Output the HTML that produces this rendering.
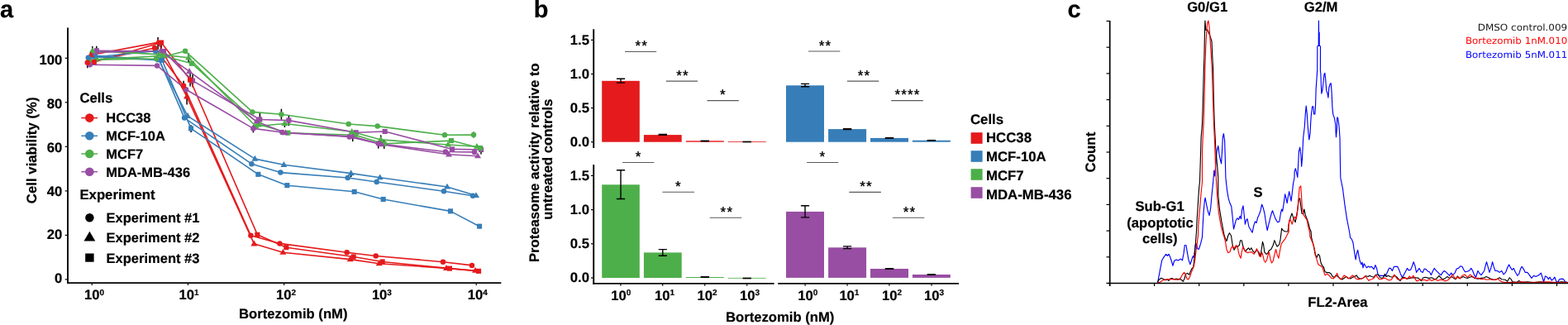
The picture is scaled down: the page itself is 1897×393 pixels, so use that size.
<!DOCTYPE html>
<html lang="en">
<head>
<meta charset="utf-8">
<title>Bortezomib figure</title>
<style>
html,body{margin:0;padding:0;background:#fff;}
body{width:1897px;height:393px;overflow:hidden;}
svg{display:block;}
text{font-family:"Liberation Sans",sans-serif;text-rendering:geometricPrecision;}
.b text,text.b{font-weight:700;stroke:#000;stroke-width:0.2px;stroke-linejoin:round;}
.r text,text.r{font-weight:400;}
.v text,text.v{font-family:"DejaVu Sans",sans-serif;font-weight:400;}
</style>
</head>
<body>
<svg width="1897" height="393" viewBox="0 0 1897 393">
<rect width="1897" height="393" fill="#fff"/>
<g id="panel-a">
<g stroke="#000" stroke-width="1.5">
<path d="M111.8 55.9V61.4"/>
<path d="M116.8 55.7V61.2"/>
<path d="M105.8 75.7V82.2"/>
<path d="M109.8 62.0V66.5"/>
<path d="M191.1 44.9V59.9"/>
<path d="M195.1 51.5V59.0"/>
<path d="M231.1 151.2V160.0"/>
<path d="M226.1 111.9V126.4"/>
<path d="M230.1 88.5V104.5"/>
<path d="M233.1 89.6V105.6"/>
<path d="M222.1 97.8V103.8"/>
<path d="M228.1 64.3V75.3"/>
<path d="M225.1 108.3V113.3"/>
<path d="M314.4 137.0V152.0"/>
<path d="M306.4 151.4V160.4"/>
<path d="M340.4 131.7V144.7"/>
<path d="M349.4 139.6V152.1"/>
<path d="M344.4 146.5V154.0"/>
<path d="M426.7 165.1V171.1"/>
<path d="M460.7 163.4V174.9"/>
<path d="M457.7 173.6V179.6"/>
<path d="M464.7 169.4V179.9"/>
<path d="M582.0 177.5V186.5"/>
<path d="M573.0 159.6V166.6"/>
<path d="M424.7 209.6V214.1"/>
</g>
<g fill="none" stroke-width="1.6" stroke-linejoin="round">
<polyline points="105.8,75.7 187.1,58.0 222.1,103.8 303.4,284.8 338.4,294.4 419.7,305.3 454.7,309.5 536.0,316.7 571.0,320.9" stroke="#E41A1C"/>
<polyline points="109.8,66.5 191.1,51.4 226.1,116.9 307.4,294.8 342.4,305.2 423.7,313.6 458.7,318.7 540.0,324.4 575.0,327.2" stroke="#E41A1C"/>
<polyline points="113.8,74.9 195.1,51.5 230.1,96.5 311.4,283.8 346.4,299.2 427.7,310.5 462.7,316.5 544.0,324.6 579.0,327.9" stroke="#E41A1C"/>
<polyline points="106.8,69.8 188.1,61.7 223.1,142.6 304.4,198.2 339.4,208.6 420.7,215.0 455.7,220.0 537.0,231.2 572.0,236.7" stroke="#377EB8"/>
<polyline points="110.8,68.7 192.1,72.7 227.1,140.4 308.4,192.1 343.4,199.3 424.7,209.6 459.7,214.7 541.0,226.0 576.0,236.5" stroke="#377EB8"/>
<polyline points="114.8,67.3 196.1,72.8 231.1,155.4 312.4,210.8 347.4,224.2 428.7,231.8 463.7,241.0 545.0,255.4 580.0,273.7" stroke="#377EB8"/>
<polyline points="107.8,72.5 189.1,71.0 224.1,61.8 305.4,135.4 340.4,138.2 421.7,150.0 456.7,152.6 538.0,163.3 573.0,163.1" stroke="#4DAF4A"/>
<polyline points="111.8,61.4 193.1,65.9 228.1,69.8 309.4,152.7 344.4,149.5 425.7,159.3 460.7,168.9 542.0,175.0 577.0,177.2" stroke="#4DAF4A"/>
<polyline points="115.8,71.9 197.1,67.5 232.1,76.7 313.4,150.5 348.4,160.7 429.7,163.3 464.7,173.9 546.0,170.1 581.0,179.1" stroke="#4DAF4A"/>
<polyline points="108.8,78.3 190.1,79.4 225.1,108.3 306.4,155.4 341.4,160.0 422.7,165.4 457.7,173.6 539.0,183.5 574.0,183.9" stroke="#984EA3"/>
<polyline points="112.8,63.2 194.1,61.7 229.1,86.3 310.4,146.9 345.4,160.7 426.7,165.1 461.7,174.7 543.0,186.8 578.0,188.7" stroke="#984EA3"/>
<polyline points="116.8,61.2 198.1,62.0 233.1,97.6 314.4,144.5 349.4,145.6 430.7,160.3 465.7,159.0 547.0,180.4 582.0,181.0" stroke="#984EA3"/>
</g>
<g>
<rect x="113.8" y="58.2" width="6.1" height="6.1" fill="#984EA3"/>
<rect x="112.8" y="68.9" width="6.1" height="6.1" fill="#4DAF4A"/>
<rect x="111.8" y="64.2" width="6.1" height="6.1" fill="#377EB8"/>
<rect x="110.8" y="71.9" width="6.1" height="6.1" fill="#E41A1C"/>
<path d="M112.8 58.9L116.8 65.8L108.8 65.8Z" fill="#984EA3"/>
<path d="M111.8 57.1L115.8 64.0L107.8 64.0Z" fill="#4DAF4A"/>
<path d="M110.8 64.4L114.8 71.3L106.8 71.3Z" fill="#377EB8"/>
<path d="M109.8 62.2L113.8 69.1L105.8 69.1Z" fill="#E41A1C"/>
<circle cx="108.8" cy="78.3" r="3.25" fill="#984EA3"/>
<circle cx="107.8" cy="72.5" r="3.25" fill="#4DAF4A"/>
<circle cx="106.8" cy="69.8" r="3.25" fill="#377EB8"/>
<circle cx="105.8" cy="75.7" r="3.25" fill="#E41A1C"/>
<rect x="195.0" y="59.0" width="6.1" height="6.1" fill="#984EA3"/>
<rect x="194.0" y="64.5" width="6.1" height="6.1" fill="#4DAF4A"/>
<rect x="193.0" y="69.8" width="6.1" height="6.1" fill="#377EB8"/>
<rect x="192.0" y="48.5" width="6.1" height="6.1" fill="#E41A1C"/>
<path d="M194.1 57.4L198.1 64.3L190.1 64.3Z" fill="#984EA3"/>
<path d="M193.1 61.6L197.1 68.5L189.1 68.5Z" fill="#4DAF4A"/>
<path d="M192.1 68.4L196.1 75.3L188.1 75.3Z" fill="#377EB8"/>
<path d="M191.1 47.1L195.1 54.0L187.1 54.0Z" fill="#E41A1C"/>
<circle cx="190.1" cy="79.4" r="3.25" fill="#984EA3"/>
<circle cx="189.1" cy="71.0" r="3.25" fill="#4DAF4A"/>
<circle cx="188.1" cy="61.7" r="3.25" fill="#377EB8"/>
<circle cx="187.1" cy="58.0" r="3.25" fill="#E41A1C"/>
<rect x="230.0" y="94.5" width="6.1" height="6.1" fill="#984EA3"/>
<rect x="229.0" y="73.7" width="6.1" height="6.1" fill="#4DAF4A"/>
<rect x="228.0" y="152.3" width="6.1" height="6.1" fill="#377EB8"/>
<rect x="227.0" y="93.5" width="6.1" height="6.1" fill="#E41A1C"/>
<path d="M229.1 82.0L233.1 88.9L225.1 88.9Z" fill="#984EA3"/>
<path d="M228.1 65.5L232.1 72.4L224.1 72.4Z" fill="#4DAF4A"/>
<path d="M227.1 136.1L231.1 143.0L223.1 143.0Z" fill="#377EB8"/>
<path d="M226.1 112.6L230.1 119.5L222.1 119.5Z" fill="#E41A1C"/>
<circle cx="225.1" cy="108.3" r="3.25" fill="#984EA3"/>
<circle cx="224.1" cy="61.8" r="3.25" fill="#4DAF4A"/>
<circle cx="223.1" cy="142.6" r="3.25" fill="#377EB8"/>
<circle cx="222.1" cy="103.8" r="3.25" fill="#E41A1C"/>
<rect x="311.3" y="141.4" width="6.1" height="6.1" fill="#984EA3"/>
<rect x="310.3" y="147.4" width="6.1" height="6.1" fill="#4DAF4A"/>
<rect x="309.3" y="207.8" width="6.1" height="6.1" fill="#377EB8"/>
<rect x="308.3" y="280.8" width="6.1" height="6.1" fill="#E41A1C"/>
<path d="M310.4 142.6L314.4 149.5L306.4 149.5Z" fill="#984EA3"/>
<path d="M309.4 148.4L313.4 155.3L305.4 155.3Z" fill="#4DAF4A"/>
<path d="M308.4 187.8L312.4 194.7L304.4 194.7Z" fill="#377EB8"/>
<path d="M307.4 290.5L311.4 297.4L303.4 297.4Z" fill="#E41A1C"/>
<circle cx="306.4" cy="155.4" r="3.25" fill="#984EA3"/>
<circle cx="305.4" cy="135.4" r="3.25" fill="#4DAF4A"/>
<circle cx="304.4" cy="198.2" r="3.25" fill="#377EB8"/>
<circle cx="303.4" cy="284.8" r="3.25" fill="#E41A1C"/>
<rect x="346.3" y="142.5" width="6.1" height="6.1" fill="#984EA3"/>
<rect x="345.3" y="157.6" width="6.1" height="6.1" fill="#4DAF4A"/>
<rect x="344.3" y="221.1" width="6.1" height="6.1" fill="#377EB8"/>
<rect x="343.3" y="296.1" width="6.1" height="6.1" fill="#E41A1C"/>
<path d="M345.4 156.4L349.4 163.3L341.4 163.3Z" fill="#984EA3"/>
<path d="M344.4 145.2L348.4 152.1L340.4 152.1Z" fill="#4DAF4A"/>
<path d="M343.4 195.0L347.4 201.9L339.4 201.9Z" fill="#377EB8"/>
<path d="M342.4 300.9L346.4 307.8L338.4 307.8Z" fill="#E41A1C"/>
<circle cx="341.4" cy="160.0" r="3.25" fill="#984EA3"/>
<circle cx="340.4" cy="138.2" r="3.25" fill="#4DAF4A"/>
<circle cx="339.4" cy="208.6" r="3.25" fill="#377EB8"/>
<circle cx="338.4" cy="294.4" r="3.25" fill="#E41A1C"/>
<rect x="427.6" y="157.2" width="6.1" height="6.1" fill="#984EA3"/>
<rect x="426.6" y="160.2" width="6.1" height="6.1" fill="#4DAF4A"/>
<rect x="425.6" y="228.8" width="6.1" height="6.1" fill="#377EB8"/>
<rect x="424.6" y="307.4" width="6.1" height="6.1" fill="#E41A1C"/>
<path d="M426.7 160.8L430.7 167.7L422.7 167.7Z" fill="#984EA3"/>
<path d="M425.7 155.0L429.7 161.9L421.7 161.9Z" fill="#4DAF4A"/>
<path d="M424.7 205.3L428.7 212.2L420.7 212.2Z" fill="#377EB8"/>
<path d="M423.7 309.3L427.7 316.2L419.7 316.2Z" fill="#E41A1C"/>
<circle cx="422.7" cy="165.4" r="3.25" fill="#984EA3"/>
<circle cx="421.7" cy="150.0" r="3.25" fill="#4DAF4A"/>
<circle cx="420.7" cy="215.0" r="3.25" fill="#377EB8"/>
<circle cx="419.7" cy="305.3" r="3.25" fill="#E41A1C"/>
<rect x="462.6" y="155.9" width="6.1" height="6.1" fill="#984EA3"/>
<rect x="461.6" y="170.8" width="6.1" height="6.1" fill="#4DAF4A"/>
<rect x="460.6" y="237.9" width="6.1" height="6.1" fill="#377EB8"/>
<rect x="459.6" y="313.4" width="6.1" height="6.1" fill="#E41A1C"/>
<path d="M461.7 170.4L465.7 177.3L457.7 177.3Z" fill="#984EA3"/>
<path d="M460.7 164.6L464.7 171.5L456.7 171.5Z" fill="#4DAF4A"/>
<path d="M459.7 210.4L463.7 217.3L455.7 217.3Z" fill="#377EB8"/>
<path d="M458.7 314.4L462.7 321.3L454.7 321.3Z" fill="#E41A1C"/>
<circle cx="457.7" cy="173.6" r="3.25" fill="#984EA3"/>
<circle cx="456.7" cy="152.6" r="3.25" fill="#4DAF4A"/>
<circle cx="455.7" cy="220.0" r="3.25" fill="#377EB8"/>
<circle cx="454.7" cy="309.5" r="3.25" fill="#E41A1C"/>
<rect x="543.9" y="177.3" width="6.1" height="6.1" fill="#984EA3"/>
<rect x="542.9" y="167.0" width="6.1" height="6.1" fill="#4DAF4A"/>
<rect x="541.9" y="252.3" width="6.1" height="6.1" fill="#377EB8"/>
<rect x="540.9" y="321.6" width="6.1" height="6.1" fill="#E41A1C"/>
<path d="M543.0 182.5L547.0 189.4L539.0 189.4Z" fill="#984EA3"/>
<path d="M542.0 170.7L546.0 177.6L538.0 177.6Z" fill="#4DAF4A"/>
<path d="M541.0 221.7L545.0 228.6L537.0 228.6Z" fill="#377EB8"/>
<path d="M540.0 320.1L544.0 327.0L536.0 327.0Z" fill="#E41A1C"/>
<circle cx="539.0" cy="183.5" r="3.25" fill="#984EA3"/>
<circle cx="538.0" cy="163.3" r="3.25" fill="#4DAF4A"/>
<circle cx="537.0" cy="231.2" r="3.25" fill="#377EB8"/>
<circle cx="536.0" cy="316.7" r="3.25" fill="#E41A1C"/>
<rect x="579.0" y="177.9" width="6.1" height="6.1" fill="#984EA3"/>
<rect x="578.0" y="176.0" width="6.1" height="6.1" fill="#4DAF4A"/>
<rect x="577.0" y="270.6" width="6.1" height="6.1" fill="#377EB8"/>
<rect x="576.0" y="324.8" width="6.1" height="6.1" fill="#E41A1C"/>
<path d="M578.0 184.4L582.0 191.3L574.0 191.3Z" fill="#984EA3"/>
<path d="M577.0 172.9L581.0 179.8L573.0 179.8Z" fill="#4DAF4A"/>
<path d="M576.0 232.2L580.0 239.1L572.0 239.1Z" fill="#377EB8"/>
<path d="M575.0 322.9L579.0 329.8L571.0 329.8Z" fill="#E41A1C"/>
<circle cx="574.0" cy="183.9" r="3.25" fill="#984EA3"/>
<circle cx="573.0" cy="163.1" r="3.25" fill="#4DAF4A"/>
<circle cx="572.0" cy="236.7" r="3.25" fill="#377EB8"/>
<circle cx="571.0" cy="320.9" r="3.25" fill="#E41A1C"/>
</g>
<g stroke="#000" fill="none">
<path d="M82 33.5V342.9" stroke-width="1.9"/>
<path d="M81.1 342.1H606.3" stroke-width="1.6"/>
</g>
<g stroke="#000" stroke-width="1.2" fill="none">
<path d="M78.7 337.9H82"/>
<path d="M78.7 284.4H82"/>
<path d="M78.7 230.9H82"/>
<path d="M78.7 177.3H82"/>
<path d="M78.7 123.8H82"/>
<path d="M78.7 70.3H82"/>
<path d="M111.2 342.5V345"/>
<path d="M227.4 342.5V345"/>
<path d="M343.7 342.5V345"/>
<path d="M459.9 342.5V345"/>
<path d="M576.2 342.5V345"/>
</g>
<g class="b" font-size="16.67" text-anchor="end">
<text x="75.2" y="342.1">0</text>
<text x="75.2" y="289.3">20</text>
<text x="75.2" y="236.5">40</text>
<text x="75.2" y="183.6">60</text>
<text x="75.2" y="130.8">80</text>
<text x="75.2" y="78.0">100</text>
</g>
<g class="b" font-size="16.6">
<text x="102.0" y="362.4">10<tspan font-size="10" dy="-5.4">0</tspan></text>
<text x="216.5" y="362.4">10<tspan font-size="10" dy="-5.4">1</tspan></text>
<text x="334.0" y="362.4">10<tspan font-size="10" dy="-5.4">2</tspan></text>
<text x="449.9" y="362.4">10<tspan font-size="10" dy="-5.4">3</tspan></text>
<text x="565.8" y="362.4">10<tspan font-size="10" dy="-5.4">4</tspan></text>
</g>
<text class="b" font-size="16.67" x="354.8" y="385.3" text-anchor="middle">Bortezomib (nM)</text>
<text class="b" font-size="16.8" transform="translate(43.5 181.8) rotate(-90)" text-anchor="middle">Cell viability (%)</text>
<text class="b" font-size="16.7" x="96.4" y="124.3">Cells</text>
<path d="M98.3 142.6H118" stroke="#E41A1C" stroke-width="1.5"/>
<circle cx="108.3" cy="142.6" r="5.3" fill="#E41A1C"/>
<text class="b" font-size="16.5" x="128.3" y="148.4">HCC38</text>
<path d="M98.3 164.3H118" stroke="#377EB8" stroke-width="1.5"/>
<circle cx="108.3" cy="164.3" r="5.3" fill="#377EB8"/>
<text class="b" font-size="16.5" x="128.3" y="170.1">MCF-10A</text>
<path d="M98.3 186.0H118" stroke="#4DAF4A" stroke-width="1.5"/>
<circle cx="108.3" cy="186.0" r="5.3" fill="#4DAF4A"/>
<text class="b" font-size="16.5" x="128.3" y="191.8">MCF7</text>
<path d="M98.3 207.7H118" stroke="#984EA3" stroke-width="1.5"/>
<circle cx="108.3" cy="207.7" r="5.3" fill="#984EA3"/>
<text class="b" font-size="16.5" x="128.3" y="213.5">MDA-MB-436</text>
<text class="b" font-size="16.75" x="96.4" y="241">Experiment</text>
<circle cx="108.4" cy="263.2" r="5.2" fill="#000"/>
<text class="b" font-size="16.5" x="128.6" y="269.1">Experiment #1</text>
<path d="M108.4 279.8L115.30000000000001 291.6L101.5 291.6Z" fill="#000"/>
<text class="b" font-size="16.5" x="128.6" y="293.3">Experiment #2</text>
<rect x="103.2" y="306.5" width="10.4" height="10.2" fill="#000"/>
<text class="b" font-size="16.5" x="128.6" y="317.5">Experiment #3</text>
<text class="b" font-size="29" x="0" y="21.4">a</text>
</g>
<g id="panel-b">
<rect x="728.2" y="97.8" width="45.6" height="73.9" fill="#E41A1C"/>
<rect x="778.9" y="163.1" width="45.8" height="8.6" fill="#E41A1C"/>
<rect x="829.8" y="170.3" width="46.0" height="1.4" fill="#E41A1C"/>
<rect x="880.7" y="171.1" width="46.0" height="0.8" fill="#E41A1C"/>
<path d="M745.9 95.3H756.1M745.9 100.1H756.1M751.0 95.3V100.1" stroke="#000" stroke-width="1.4" fill="none"/>
<rect x="796.6" y="161.75" width="10.4" height="2.20" fill="#000"/>
<rect x="847.6" y="169.55" width="10.4" height="1.90" fill="#000"/>
<rect x="898.5" y="170.65" width="10.4" height="1.70" fill="#000"/>
<rect x="951.0" y="103.3" width="46.0" height="68.4" fill="#377EB8"/>
<rect x="1002.1" y="156.1" width="46.0" height="15.6" fill="#377EB8"/>
<rect x="1053.0" y="166.9" width="46.0" height="4.8" fill="#377EB8"/>
<rect x="1103.9" y="169.7" width="45.9" height="2.0" fill="#377EB8"/>
<path d="M968.9 101.4H979.1M968.9 104.8H979.1M974.0 101.4V104.8" stroke="#000" stroke-width="1.4" fill="none"/>
<rect x="1019.9" y="155.05" width="10.4" height="2.20" fill="#000"/>
<rect x="1070.8" y="165.95" width="10.4" height="1.90" fill="#000"/>
<rect x="1121.6" y="168.95" width="10.4" height="1.70" fill="#000"/>
<rect x="728.2" y="223.3" width="45.6" height="112.7" fill="#4DAF4A"/>
<rect x="778.9" y="305.4" width="45.8" height="30.6" fill="#4DAF4A"/>
<rect x="829.8" y="335.0" width="46.0" height="1.0" fill="#4DAF4A"/>
<rect x="880.7" y="335.9" width="46.0" height="0.8" fill="#4DAF4A"/>
<path d="M745.9 205.8H756.1M745.9 240.5H756.1M751.0 205.8V240.5" stroke="#000" stroke-width="1.4" fill="none"/>
<path d="M796.7 301.6H806.9M796.7 309.3H806.9M801.8 301.6V309.3" stroke="#000" stroke-width="1.4" fill="none"/>
<rect x="847.6" y="334.05" width="10.4" height="1.90" fill="#000"/>
<rect x="898.5" y="335.65" width="10.4" height="1.70" fill="#000"/>
<rect x="951.0" y="255.9" width="46.0" height="80.0" fill="#984EA3"/>
<rect x="1002.1" y="299.3" width="46.0" height="36.6" fill="#984EA3"/>
<rect x="1053.0" y="325.0" width="46.0" height="10.9" fill="#984EA3"/>
<rect x="1103.9" y="332.0" width="45.9" height="3.9" fill="#984EA3"/>
<path d="M968.9 248.8H979.1M968.9 262.9H979.1M974.0 248.8V262.9" stroke="#000" stroke-width="1.4" fill="none"/>
<path d="M1020.0 297.9H1030.2M1020.0 300.6H1030.2M1025.1 297.9V300.6" stroke="#000" stroke-width="1.4" fill="none"/>
<rect x="1070.8" y="324.05" width="10.4" height="1.90" fill="#000"/>
<rect x="1121.6" y="331.15" width="10.4" height="1.70" fill="#000"/>
<path d="M756.0 62.5H794.2" stroke="#595959" stroke-width="1.1"/>
<text class="r" font-size="17" letter-spacing="1.17" stroke="#000" stroke-width="0.35" x="776.2" y="61.0" text-anchor="middle">**</text>
<path d="M805.8 98.1H844.0" stroke="#595959" stroke-width="1.1"/>
<text class="r" font-size="17" letter-spacing="1.17" stroke="#000" stroke-width="0.35" x="826.0" y="96.6" text-anchor="middle">**</text>
<path d="M855.5 121.6H893.8" stroke="#595959" stroke-width="1.1"/>
<text class="r" font-size="17" letter-spacing="1.17" stroke="#000" stroke-width="0.35" x="875.0" y="120.1" text-anchor="middle">*</text>
<path d="M978.0 62.0H1016.3" stroke="#595959" stroke-width="1.1"/>
<text class="r" font-size="17" letter-spacing="1.17" stroke="#000" stroke-width="0.35" x="998.5" y="60.5" text-anchor="middle">**</text>
<path d="M1024.9 98.1H1063.3" stroke="#595959" stroke-width="1.1"/>
<text class="r" font-size="17" letter-spacing="1.17" stroke="#000" stroke-width="0.35" x="1045.6" y="96.6" text-anchor="middle">**</text>
<path d="M1078.2 121.6H1116.8" stroke="#595959" stroke-width="1.1"/>
<text class="r" font-size="17" letter-spacing="1.17" stroke="#000" stroke-width="0.35" x="1098.0" y="120.1" text-anchor="middle">****</text>
<path d="M753.0 196.5H791.3" stroke="#595959" stroke-width="1.1"/>
<text class="r" font-size="17" letter-spacing="1.17" stroke="#000" stroke-width="0.35" x="772.6" y="195.0" text-anchor="middle">*</text>
<path d="M801.4 232.3H840.0" stroke="#595959" stroke-width="1.1"/>
<text class="r" font-size="17" letter-spacing="1.17" stroke="#000" stroke-width="0.35" x="821.0" y="230.8" text-anchor="middle">*</text>
<path d="M858.7 263.3H897.2" stroke="#595959" stroke-width="1.1"/>
<text class="r" font-size="17" letter-spacing="1.17" stroke="#000" stroke-width="0.35" x="879.4" y="261.8" text-anchor="middle">**</text>
<path d="M976.1 196.5H1014.2" stroke="#595959" stroke-width="1.1"/>
<text class="r" font-size="17" letter-spacing="1.17" stroke="#000" stroke-width="0.35" x="995.5" y="195.0" text-anchor="middle">*</text>
<path d="M1027.3 232.4H1065.9" stroke="#595959" stroke-width="1.1"/>
<text class="r" font-size="17" letter-spacing="1.17" stroke="#000" stroke-width="0.35" x="1048.0" y="230.9" text-anchor="middle">**</text>
<path d="M1079.9 263.3H1118.3" stroke="#595959" stroke-width="1.1"/>
<text class="r" font-size="17" letter-spacing="1.17" stroke="#000" stroke-width="0.35" x="1100.5" y="261.8" text-anchor="middle">**</text>
<g stroke="#000" fill="none">
<path d="M718.2 35.3V179" stroke-width="1.9"/>
<path d="M718.2 199.1V343.7" stroke-width="1.9"/>
<path d="M717.25 342.9H936.6" stroke-width="1.6"/>
<path d="M941.2 342.9H1160" stroke-width="1.6"/>
</g>
<g stroke="#000" stroke-width="1.2" fill="none">
<path d="M715 171.7H718.2"/>
<path d="M715 336.0H718.2"/>
<path d="M715 130.6H718.2"/>
<path d="M715 294.8H718.2"/>
<path d="M715 89.5H718.2"/>
<path d="M715 253.6H718.2"/>
<path d="M715 48.4H718.2"/>
<path d="M715 212.4H718.2"/>
<path d="M750.9 343.2V345.8"/>
<path d="M801.7 343.2V345.8"/>
<path d="M852.7 343.2V345.8"/>
<path d="M903.7 343.2V345.8"/>
<path d="M974.1 343.2V345.8"/>
<path d="M1025.1 343.2V345.8"/>
<path d="M1075.9 343.2V345.8"/>
<path d="M1127.0 343.2V345.8"/>
</g>
<g class="b" font-size="16.67" text-anchor="end">
<text x="713.0" y="176.8">0.0</text>
<text x="713.0" y="341.2">0.0</text>
<text x="713.0" y="135.9">0.5</text>
<text x="713.0" y="300.2">0.5</text>
<text x="713.0" y="94.9">1.0</text>
<text x="713.0" y="259.2">1.0</text>
<text x="713.0" y="53.9">1.5</text>
<text x="713.0" y="218.2">1.5</text>
</g>
<g class="b" font-size="16.6">
<text x="739.2" y="362.5">10<tspan font-size="10" dy="-5.4">0</tspan></text>
<text x="792.0" y="362.5">10<tspan font-size="10" dy="-5.4">1</tspan></text>
<text x="843.6" y="362.5">10<tspan font-size="10" dy="-5.4">2</tspan></text>
<text x="895.0" y="362.5">10<tspan font-size="10" dy="-5.4">3</tspan></text>
<text x="965.3" y="362.5">10<tspan font-size="10" dy="-5.4">0</tspan></text>
<text x="1015.4" y="362.5">10<tspan font-size="10" dy="-5.4">1</tspan></text>
<text x="1067.0" y="362.5">10<tspan font-size="10" dy="-5.4">2</tspan></text>
<text x="1118.1" y="362.5">10<tspan font-size="10" dy="-5.4">3</tspan></text>
</g>
<text class="b" font-size="16.67" x="943.7" y="389.1" text-anchor="middle">Bortezomib (nM)</text>
<text class="b" font-size="16.67" transform="translate(651.9 196.7) rotate(-90)" text-anchor="middle">Proteasome activity relative to</text>
<text class="b" font-size="16.67" transform="translate(667.7 192.6) rotate(-90)" text-anchor="middle">untreated controls</text>
<text class="b" font-size="16.8" x="1174.0" y="149.9">Cells</text>
<rect x="1174.6" y="160.2" width="14" height="13.6" fill="#E41A1C"/>
<text class="b" font-size="16.8" x="1193.0" y="172.1">HCC38</text>
<rect x="1174.6" y="182.2" width="14" height="13.6" fill="#377EB8"/>
<text class="b" font-size="16.8" x="1193.0" y="195.1">MCF-10A</text>
<rect x="1174.6" y="204.2" width="14" height="13.6" fill="#4DAF4A"/>
<text class="b" font-size="16.8" x="1193.0" y="218.1">MCF7</text>
<rect x="1174.6" y="226.2" width="14" height="13.6" fill="#984EA3"/>
<text class="b" font-size="16.8" x="1193.0" y="241.1">MDA-MB-436</text>
<text class="b" font-size="29" x="645.7" y="21.0">b</text>
</g>
<g id="panel-c">
<polyline points="1400.7,341.2 1403.2,327.9 1405.7,314.7 1408.2,310.6 1410.7,307.3 1412.3,309.4 1414.0,307.3 1415.6,310.6 1417.3,315.5 1418.9,321.3 1420.6,315.5 1423.1,313.9 1425.5,315.0 1428.0,313.1 1430.5,314.7 1432.1,306.4 1433.3,296.5 1435.0,296.5 1436.3,304.8 1437.9,313.9 1439.9,319.7 1441.6,314.7 1443.2,309.8 1444.5,311.4 1446.2,296.5 1447.5,294.9 1448.7,300.7 1450.3,301.5 1452.5,294.9 1454.5,286.6 1455.1,274.5 1456.1,256.4 1457.3,243.1 1458.1,239.0 1459.8,248.1 1461.4,255.5 1463.1,260.5 1464.7,251.4 1466.0,236.5 1467.7,220.0 1468.8,206.2 1469.7,212.8 1471.0,196.3 1472.1,183.1 1473.8,176.4 1475.0,186.4 1476.3,193.0 1477.6,197.9 1478.4,184.7 1479.3,166.5 1480.4,161.6 1481.6,169.8 1482.2,188.0 1482.9,215.0 1484.5,229.9 1486.2,239.8 1487.9,245.6 1489.8,249.8 1491.2,263.0 1492.5,277.0 1493.6,272.9 1495.3,266.3 1496.9,263.8 1498.6,265.5 1500.2,261.3 1501.4,264.6 1502.7,253.1 1504.0,248.9 1505.2,259.7 1506.4,271.2 1507.7,266.3 1509.0,264.6 1511.0,274.5 1512.6,277.0 1515.1,281.2 1516.8,272.9 1518.4,267.9 1520.0,269.5 1521.7,262.9 1523.3,259.6 1525.0,254.7 1526.6,247.2 1528.3,251.4 1529.9,258.0 1531.6,269.5 1533.2,278.6 1534.9,271.2 1536.5,264.6 1538.2,258.0 1539.5,254.7 1541.2,259.6 1543.1,264.6 1545.6,268.7 1547.8,267.9 1549.4,258.0 1550.6,253.0 1551.7,255.5 1553.1,246.4 1554.7,234.8 1556.0,239.8 1557.2,245.6 1558.3,238.1 1559.7,231.5 1561.0,238.1 1562.1,243.1 1563.3,233.2 1564.6,221.6 1566.0,215.0 1566.1,207.9 1567.3,203.7 1568.4,207.9 1569.8,214.5 1570.6,199.6 1571.4,183.1 1572.7,178.1 1573.9,188.0 1574.7,201.2 1575.5,191.3 1576.7,166.5 1578.3,153.3 1579.3,137.9 1580.2,128.0 1581.3,137.9 1582.0,150.0 1583.0,161.6 1583.8,169.0 1585.0,161.6 1585.6,150.0 1586.3,139.5 1587.6,128.8 1588.8,128.8 1589.6,137.9 1590.9,137.9 1591.6,126.3 1592.1,108.1 1592.9,96.6 1593.7,85.0 1593.8,56.0 1595.2,55.0 1595.4,25.0 1595.7,55.0 1597.5,56.0 1597.4,85.0 1597.9,90.0 1598.3,101.5 1598.8,113.1 1599.8,109.8 1600.8,101.5 1602.0,90.0 1602.8,88.3 1603.6,94.9 1604.8,109.8 1606.1,113.1 1606.9,118.1 1607.8,106.5 1609.1,101.5 1610.2,100.7 1611.1,111.4 1611.9,129.6 1612.7,137.9 1614.4,142.9 1615.7,150.0 1616.0,158.3 1616.5,165.7 1617.4,155.0 1617.7,142.0 1618.5,142.0 1619.7,150.0 1620.2,155.0 1621.0,166.5 1621.3,186.4 1621.8,215.0 1624.5,228.2 1627.0,248.1 1629.5,264.6 1632.5,280.0 1633.6,287.4 1635.3,289.1 1636.9,293.2 1638.1,301.5 1639.4,309.8 1640.2,313.9 1641.4,306.4 1642.7,302.3 1644.0,309.8 1645.2,315.5 1646.9,319.7 1648.0,317.2 1649.0,323.8 1650.2,318.8 1651.8,321.3 1653.5,323.8 1655.1,322.1 1657.0,323.1 1659.5,322.4 1662.1,325.6 1664.0,320.5 1665.7,325.0 1667.2,332.6 1669.7,333.3 1673.5,333.3 1676.1,333.9 1678.0,330.1 1680.5,324.4 1682.4,324.4 1684.4,327.5 1686.5,322.4 1690.7,322.2 1692.6,326.3 1694.5,331.4 1696.4,335.2 1698.3,332.6 1700.3,328.8 1702.5,324.4 1704.3,326.9 1706.6,326.3 1708.5,321.8 1710.2,316.7 1712.0,321.8 1713.6,329.4 1715.3,326.9 1717.1,324.4 1719.1,328.2 1721.2,329.4 1723.2,325.0 1725.1,325.6 1727.6,328.2 1729.5,328.8 1731.4,332.6 1733.3,328.2 1735.2,324.4 1737.2,326.9 1739.7,329.4 1741.6,331.4 1743.5,332.6 1745.4,329.4 1747.3,327.5 1749.2,328.8 1751.8,331.4 1753.7,333.3 1755.6,330.1 1757.5,332.6 1760.1,330.1 1762.3,325.0 1764.5,324.4 1766.7,321.8 1769.0,322.4 1770.9,326.3 1772.8,328.8 1775.3,328.2 1777.9,326.9 1779.8,324.4 1781.7,327.5 1783.6,332.6 1785.5,335.2 1788.0,327.5 1790.0,330.7 1791.9,332.6 1793.8,330.1 1795.7,327.5 1796.9,322.4 1798.5,316.7 1800.1,322.4 1802.0,329.4 1803.9,323.7 1805.6,316.7 1807.1,322.4 1809.0,327.5 1811.6,327.5 1814.1,329.4 1816.7,327.5 1819.2,332.0 1821.8,328.8 1823.7,323.7 1825.6,319.9 1827.5,323.7 1829.4,326.3 1831.3,324.4 1833.2,328.8 1835.8,333.3 1837.7,331.4 1839.6,325.0 1841.2,322.4 1843.4,325.6 1845.3,329.4 1847.8,329.4 1850.4,332.6 1852.9,336.4 1855.5,333.3 1858.0,334.5 1860.6,333.3 1862.5,332.0 1864.4,330.1 1866.3,336.4 1867.6,340.9 1869.5,333.9 1872.0,335.2 1873.3,337.7 1875.2,335.2 1877.1,339.0 1879.0,337.7 1880.9,335.2 1882.8,340.3 1884.7,341.5 1886.6,337.7 1889.8,337.1 1891.7,337.7 1893.6,340.9 1896.9,341.5" fill="none" stroke="#0000FF" stroke-width="1.15" stroke-linejoin="round"/>
<polyline points="1400.2,341.5 1402.4,337.9 1404.9,336.2 1407.4,337.5 1409.8,338.7 1412.3,337.9 1414.0,339.5 1415.6,337.0 1418.1,336.5 1420.6,337.9 1423.1,337.0 1425.5,337.9 1427.2,337.0 1429.7,338.7 1431.3,340.3 1433.0,337.0 1434.6,331.2 1436.3,330.4 1438.8,332.1 1440.4,327.9 1442.1,324.6 1443.7,323.0 1444.9,313.1 1445.9,299.8 1447.0,286.6 1447.5,280.0 1447.9,269.6 1449.0,253.1 1449.8,239.8 1450.7,226.6 1451.5,220.0 1452.3,194.6 1453.1,166.5 1454.5,150.0 1455.5,118.1 1456.3,85.0 1456.9,69.6 1457.4,41.5 1457.9,25.0 1458.9,36.5 1460.6,35.7 1463.1,41.5 1466.0,49.8 1466.7,66.3 1467.7,85.0 1468.3,118.1 1469.3,150.0 1471.0,183.1 1472.6,199.6 1473.8,215.0 1473.8,236.5 1475.5,253.1 1477.9,267.9 1481.2,285.0 1482.4,288.3 1484.0,291.6 1485.7,285.0 1487.4,281.7 1489.5,285.0 1491.2,296.5 1493.1,302.3 1494.8,299.0 1497.3,298.2 1499.4,296.5 1500.6,290.7 1502.2,290.7 1503.9,298.2 1506.4,304.0 1508.8,301.5 1510.5,299.8 1512.1,302.3 1513.8,299.8 1515.5,303.1 1517.9,305.6 1520.4,302.3 1522.9,304.8 1524.9,309.8 1526.2,301.5 1527.5,292.4 1528.7,296.5 1529.8,304.8 1532.0,307.3 1533.6,306.4 1535.3,303.1 1537.8,301.5 1540.2,296.5 1541.9,290.7 1543.6,294.9 1545.2,298.2 1547.7,295.7 1549.0,289.9 1550.2,280.0 1550.6,276.2 1552.2,278.6 1554.7,280.0 1558.0,280.0 1559.7,267.9 1561.3,262.9 1563.0,258.0 1564.6,262.9 1567.1,268.7 1568.8,259.6 1569.9,253.0 1571.2,241.4 1572.6,239.8 1573.7,248.1 1574.9,258.0 1576.5,258.8 1577.9,253.0 1579.2,259.6 1581.2,264.6 1582.8,269.5 1584.5,276.2 1586.1,280.0 1586.5,286.6 1588.2,293.2 1589.8,299.8 1591.2,308.1 1593.1,311.4 1594.8,307.3 1596.4,308.9 1598.1,318.0 1599.8,321.3 1601.4,323.0 1603.1,328.8 1605.5,329.6 1608.0,329.6 1610.5,331.2 1612.1,334.5 1614.6,335.4 1616.3,332.9 1618.8,334.5 1621.2,337.0 1623.7,337.9 1626.2,336.2 1628.7,334.5 1631.2,336.2 1633.6,337.0 1636.1,335.4 1638.6,334.5 1641.1,332.9 1642.7,335.4 1645.2,337.0 1647.7,337.0 1650.2,335.4 1652.6,333.7 1655.1,334.5 1657.0,333.3 1659.5,334.5 1662.1,335.2 1664.6,332.0 1667.2,332.0 1669.7,335.8 1672.9,336.4 1675.4,331.4 1677.4,334.5 1679.3,333.3 1681.8,334.5 1684.4,335.2 1687.5,333.3 1690.1,335.2 1692.0,337.7 1693.9,339.6 1696.4,335.8 1699.0,335.2 1701.5,337.1 1705.3,336.4 1709.2,335.8 1713.0,335.8 1716.2,336.4 1719.3,339.6 1721.9,335.8 1724.4,335.2 1728.2,336.4 1732.1,335.8 1735.9,337.7 1738.4,336.4 1741.0,333.3 1743.5,336.4 1746.1,337.7 1748.6,336.4 1751.1,334.5 1753.7,336.4 1756.2,334.5 1758.8,336.4 1761.3,337.7 1763.2,333.9 1765.1,336.4 1767.7,335.8 1770.2,334.5 1772.8,335.8 1775.3,336.4 1777.9,335.2 1781.0,334.5 1784.2,336.4 1788.0,337.1 1791.9,336.4 1795.7,335.8 1798.2,334.5 1800.8,335.8 1803.3,337.1 1807.1,338.3 1810.9,337.7 1814.1,335.8 1816.7,337.7 1821.1,338.3 1823.7,340.3 1826.2,335.8 1828.1,337.7 1830.0,340.9 1835.1,341.3 1837.7,339.6 1840.2,341.3 1847.8,340.9 1855.5,341.5 1863.1,340.9 1873.3,341.5 1883.5,341.3 1889.8,340.9 1896.9,341.5" fill="none" stroke="#000000" stroke-width="1.15" stroke-linejoin="round"/>
<polyline points="1400.2,342.0 1403.2,341.2 1405.7,339.8 1408.2,338.2 1411.5,337.9 1414.8,337.9 1418.1,337.5 1421.4,337.9 1424.7,338.2 1427.2,337.9 1428.8,335.4 1430.5,332.1 1432.6,329.3 1434.3,332.1 1436.0,337.0 1437.6,337.9 1439.6,334.5 1441.2,329.6 1442.9,325.5 1444.5,321.3 1445.9,313.1 1447.0,303.1 1448.2,294.9 1449.5,285.0 1449.8,272.9 1451.5,253.1 1453.1,233.2 1454.5,220.0 1454.5,183.1 1455.6,158.3 1456.1,150.0 1457.1,118.1 1457.8,85.0 1458.3,69.6 1458.9,53.1 1459.9,36.5 1460.7,28.3 1461.9,25.0 1463.1,33.2 1464.4,53.1 1465.5,69.6 1466.4,85.0 1467.4,118.1 1468.5,150.0 1469.7,174.8 1470.5,199.6 1471.3,215.0 1472.6,236.5 1474.3,256.4 1477.1,272.9 1480.4,285.0 1480.7,285.0 1482.4,291.6 1484.0,301.5 1485.7,305.6 1487.9,304.8 1489.5,299.8 1491.2,297.4 1492.3,300.7 1494.0,299.0 1495.6,296.5 1497.3,299.0 1498.4,304.8 1499.8,309.8 1501.1,312.2 1502.2,304.8 1503.9,298.2 1505.5,302.3 1507.7,304.8 1509.7,305.6 1512.1,304.8 1514.6,304.8 1517.1,307.3 1518.8,304.8 1520.4,300.7 1522.1,304.8 1523.7,309.8 1525.4,310.6 1526.5,304.8 1527.9,308.9 1529.2,314.7 1530.8,317.2 1532.5,314.7 1534.1,308.1 1535.3,304.8 1536.9,313.1 1538.6,318.0 1540.2,315.5 1541.9,308.1 1543.6,301.5 1545.2,308.1 1546.9,312.2 1548.5,303.1 1550.2,294.9 1552.6,291.6 1555.1,288.3 1557.6,283.3 1559.3,280.0 1558.8,272.9 1560.5,264.6 1562.1,267.9 1563.3,271.2 1565.0,264.6 1566.6,262.1 1568.3,264.6 1569.6,256.3 1570.9,241.4 1572.1,226.6 1573.7,224.9 1574.5,236.5 1575.4,251.4 1577.0,259.6 1578.7,262.1 1581.2,266.2 1582.8,274.5 1584.5,280.0 1584.9,286.6 1586.5,289.9 1589.0,295.7 1590.7,303.1 1592.3,311.4 1594.8,319.7 1597.3,321.3 1599.8,323.0 1601.4,327.9 1603.1,332.9 1605.5,331.2 1608.0,332.9 1610.5,336.2 1613.0,337.0 1615.5,334.5 1617.6,330.4 1619.6,335.4 1622.1,337.9 1624.5,335.4 1626.2,332.9 1628.7,334.5 1631.2,337.0 1633.6,335.4 1636.1,332.9 1637.8,333.7 1640.2,337.0 1643.6,337.9 1646.0,337.0 1649.3,336.2 1651.8,333.7 1653.5,336.2 1656.0,339.5 1657.0,338.3 1659.5,337.7 1662.1,336.4 1664.6,332.6 1666.5,335.2 1668.5,337.7 1671.0,337.7 1673.5,336.4 1676.1,336.4 1678.6,338.3 1681.2,339.0 1683.7,337.7 1685.6,333.9 1686.9,332.0 1688.8,335.2 1690.7,337.7 1692.6,338.3 1695.2,337.7 1697.7,336.4 1700.3,336.4 1702.8,337.1 1705.3,333.9 1707.3,336.4 1709.8,333.3 1711.7,336.4 1713.6,339.6 1715.5,339.6 1718.1,337.7 1720.6,339.0 1723.2,338.3 1726.3,339.6 1729.5,337.7 1732.1,339.6 1734.6,338.3 1737.2,337.7 1739.7,339.6 1742.2,338.3 1744.8,338.3 1747.3,339.6 1749.9,339.6 1752.4,338.3 1755.0,335.2 1757.5,332.0 1759.4,335.2 1761.3,337.1 1763.9,334.5 1766.4,337.1 1769.0,333.3 1772.1,332.0 1774.0,333.9 1776.0,335.2 1778.5,332.0 1781.0,333.9 1783.0,335.2 1785.5,336.4 1789.3,336.4 1791.9,337.7 1795.7,337.1 1798.2,338.3 1802.0,337.7 1805.9,338.3 1809.7,338.3 1812.2,337.1 1814.8,339.6 1817.3,340.9 1821.1,341.5 1828.8,341.3 1835.1,341.5 1840.2,340.9 1847.8,341.5 1860.6,341.3 1873.3,340.9 1883.5,341.5 1896.9,341.5" fill="none" stroke="#FF0000" stroke-width="1.15" stroke-linejoin="round"/>
<path d="M1595.9 39V55.5" stroke="#0000FF" stroke-width="1.6" fill="none"/>
<g stroke="#000" stroke-width="1.2" fill="none">
<path d="M1342.7 25V346" stroke-width="1.7"/>
<path d="M1338.5 342.5H1897" stroke-width="1.3"/>
<path d="M1338.5 25.5H1342.5"/>
<path d="M1338.5 57.2H1342.5"/>
<path d="M1338.5 88.9H1342.5"/>
<path d="M1338.5 120.6H1342.5"/>
<path d="M1338.5 152.3H1342.5"/>
<path d="M1338.5 184.0H1342.5"/>
<path d="M1338.5 215.7H1342.5"/>
<path d="M1338.5 247.4H1342.5"/>
<path d="M1338.5 279.1H1342.5"/>
<path d="M1338.5 310.8H1342.5"/>
<path d="M1396.6 342.5V346"/>
<path d="M1450.7 342.5V346"/>
<path d="M1504.8 342.5V346"/>
<path d="M1558.9 342.5V346"/>
<path d="M1613.0 342.5V346"/>
<path d="M1667.1 342.5V346"/>
<path d="M1721.2 342.5V346"/>
<path d="M1775.3 342.5V346"/>
<path d="M1829.4 342.5V346"/>
<path d="M1883.5 342.5V346"/>
</g>
<g class="b" font-size="16.67" text-anchor="middle">
<text x="1460.7" y="14.1">G0/G1</text>
<text x="1598.1" y="13.5">G2/M</text>
<text x="1522.1" y="238.1">S</text>
<text x="1403.1" y="254.6">Sub-G1</text>
<text x="1403.5" y="274.6">(apoptotic</text>
<text x="1403.3" y="294.2">cells)</text>
<text x="1618.4" y="371.2">FL2-Area</text>
<text font-size="16.9" transform="translate(1325.2 184.1) rotate(-90)">Count</text>
</g>
<g class="v" font-size="11.2" text-anchor="end">
<text x="1896.2" y="36.5" fill="#1a1a1a" textLength="108.5" lengthAdjust="spacingAndGlyphs">DMSO control.009</text>
<text x="1896.2" y="53.3" fill="#FF0000" textLength="123.2" lengthAdjust="spacingAndGlyphs">Bortezomib 1nM.010</text>
<text x="1896.2" y="70.1" fill="#0000FF" textLength="123.2" lengthAdjust="spacingAndGlyphs">Bortezomib 5nM.011</text>
</g>
<text class="b" font-size="29" x="1291.4" y="20.9">c</text>
</g>
</svg>
</body>
</html>
